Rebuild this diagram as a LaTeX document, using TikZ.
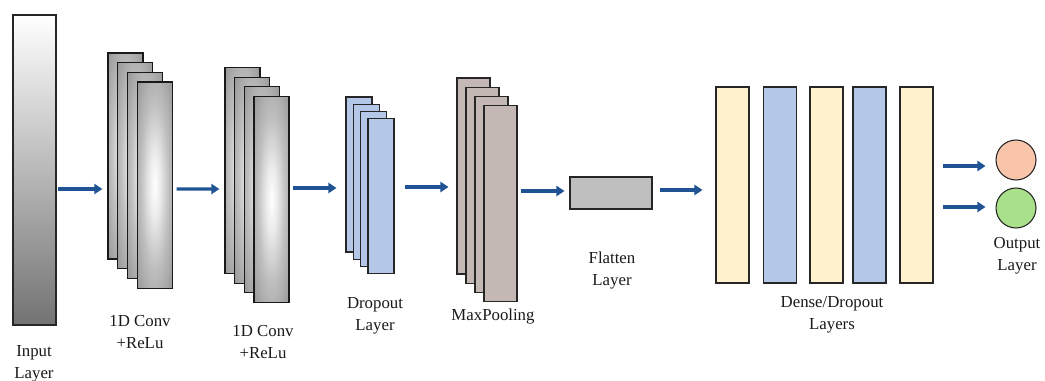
\documentclass[tikz,border=0pt]{standalone}
\usepackage{fontspec}
\setmainfont{Liberation Serif}
\usetikzlibrary{arrows.meta}
\definecolor{flowblue}{HTML}{1F5394}
\definecolor{dropblue}{HTML}{B4C7E7}
\definecolor{poolgray}{HTML}{C4B8B4}
\definecolor{flatgray}{HTML}{BFBFBF}
\definecolor{densecream}{HTML}{FFF2CC}
\definecolor{outred}{HTML}{F8C4AA}
\definecolor{outgreen}{HTML}{A8E08C}
% soft metallic glow for the convolution maps
\pgfdeclareradialshading{convglow}{\pgfpoint{0bp}{0bp}}{%
  color(0bp)=(white);
  color(8bp)=(black!8);
  color(20bp)=(black!25);
  color(35bp)=(black!40);
  color(50bp)=(black!52);
  color(75bp)=(black!58)}
\tikzset{
  box/.style={draw=black!85, line width=0.8pt, inner sep=0pt, rectangle},
  convbox/.style={box, draw=black!90, line width=0.9pt, minimum width=26.25pt,
    minimum height=154.5pt, shading=convglow},
  dropbox/.style={box, fill=dropblue, minimum width=19.5pt, minimum height=116.25pt},
  poolbox/.style={box, fill=poolgray, minimum width=24.75pt, minimum height=147pt},
  densebox/.style={box, minimum width=24.75pt, minimum height=147pt},
  outnode/.style={circle, draw=black!85, line width=0.8pt, minimum size=30pt, inner sep=0pt},
  lbl/.style={align=center, text=black!90, font=\fontsize{12.6}{16.5}\selectfont, inner sep=0pt},
  flow/.style={draw=flowblue, line width=2.4pt, -{Triangle[length=6pt,width=7.5pt]}}
}
\begin{document}
\begin{tikzpicture}[x=0.75pt, y=-0.75pt]
\useasboundingbox (0,0) rectangle (1045,381);

% input layer
\node[box, minimum width=32.25pt, minimum height=232.5pt,
      top color=white, bottom color=black!55] (in) at (34.5,170) {};

% first convolution stack
\node[convbox] (c1a) at (125.5,156) {};
\node[convbox] (c1b) at (135.2,165.7) {};
\node[convbox] (c1c) at (144.9,175.4) {};
\node[convbox] (c1d) at (154.6,185.1) {};

% second convolution stack
\node[convbox] (c2a) at (242.5,170.5) {};
\node[convbox] (c2b) at (252.2,180.2) {};
\node[convbox] (c2c) at (261.8,189.8) {};
\node[convbox] (c2d) at (271.5,199.5) {};

% dropout stack
\node[dropbox] (dra) at (359,174.5) {};
\node[dropbox] (drb) at (366.3,181.7) {};
\node[dropbox] (drc) at (373.7,188.8) {};
\node[dropbox] (drd) at (381,196) {};

% max pooling stack
\node[poolbox] (mpa) at (473.5,176) {};
\node[poolbox] (mpb) at (482.5,185.2) {};
\node[poolbox] (mpc) at (491.5,194.3) {};
\node[poolbox] (mpd) at (500.5,203.5) {};

% flatten
\node[box, fill=flatgray, minimum width=61.5pt, minimum height=24pt] (fl) at (611,193) {};

% dense / dropout layers
\node[densebox, fill=densecream] (d1) at (732.5,185) {};
\node[densebox, fill=dropblue]   (d2) at (780,185) {};
\node[densebox, fill=densecream] (d3) at (826.5,185) {};
\node[densebox, fill=dropblue]   (d4) at (869.5,185) {};
\node[densebox, fill=densecream] (d5) at (916.5,185) {};

% outputs
\node[outnode, fill=outred]   (o1) at (1016,160) {};
\node[outnode, fill=outgreen] (o2) at (1016,208) {};

% labels
\node[lbl] (lin)  at (34,364)    {Input\\Layer};
\node[lbl] (lc1)  at (140,332.5) {1D Conv\\+ReLu};
\node[lbl] (lc2)  at (263,342.5) {1D Conv\\+ReLu};
\node[lbl] (ldr)  at (375,315.5) {Dropout\\Layer};
\node[lbl] (lmp)  at (493,316)   {MaxPooling};
\node[lbl] (lfl)  at (612,270)   {Flatten\\Layer};
\node[lbl] (lde)  at (832,314.5) {Dense/Dropout\\Layers};
\node[lbl] (lout) at (1017,255.5) {Output\\Layer};

% data flow
\draw[flow] ([shift={(1,19)}]in.east)    -- ([shift={(-5,33)}]c1a.west);
\draw[flow] ([shift={(4,4)}]c1d.east)    -- ([shift={(-5,18.5)}]c2a.west);
\draw[flow] ([shift={(3,-11.5)}]c2d.east) -- ([shift={(-9,13.5)}]dra.west);
\draw[flow] ([shift={(10,-9)}]drd.east)  -- ([shift={(-8,11)}]mpa.west);
\draw[flow] ([shift={(3,-12.5)}]mpd.east) -- ([shift={(-5,-2)}]fl.west);
\draw[flow] ([shift={(7,-3)}]fl.east)    -- ([shift={(-13,5)}]d1.west);
\draw[flow] ([shift={(9,-19)}]d5.east)   -- ([shift={(-10,6)}]o1.west);
\draw[flow] ([shift={(9,22)}]d5.east)    -- ([shift={(-10,-1)}]o2.west);
\end{tikzpicture}
\end{document}
